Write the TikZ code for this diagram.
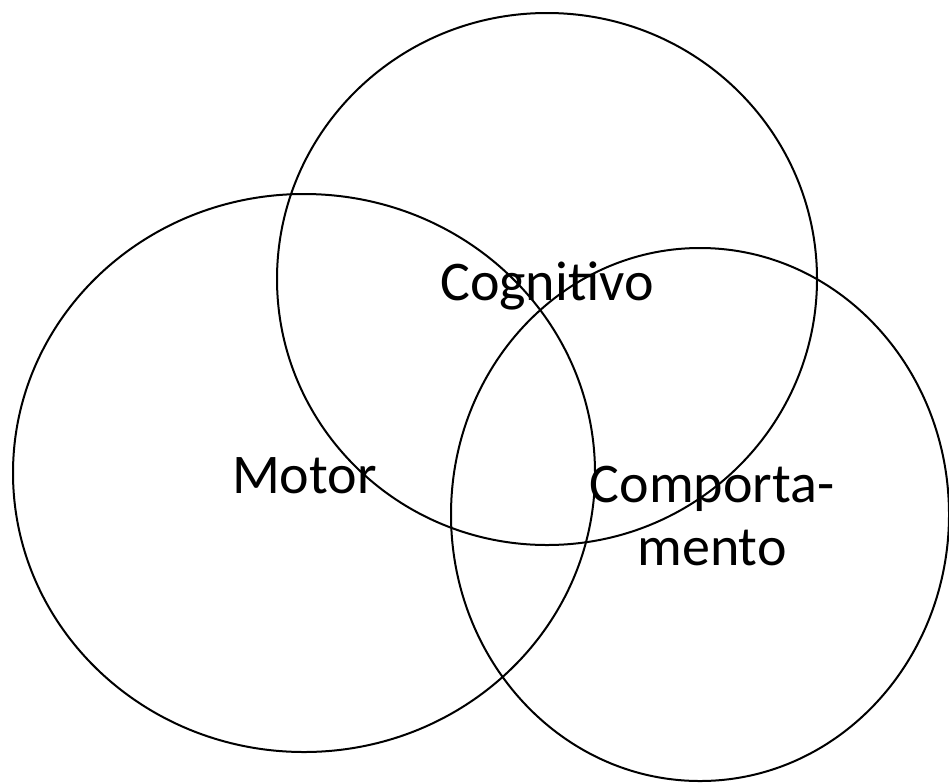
\documentclass[tikz,border=0pt]{standalone}
\usepackage{fontspec}
\setmainfont{Carlito}
\usetikzlibrary{shapes.geometric,positioning}

\begin{document}
\begin{tikzpicture}[x=1pt,y=-1pt,line width=2pt,
		set node/.style={ellipse,draw,inner sep=0pt}, text node/.style={rectangle,inner sep=0pt,font=\fontsize{56}{63}\selectfont}]
		
		\useasboundingbox (0,0) rectangle (949,782);
		
		\node[set node,minimum width=582pt,minimum height=558pt] (motor) at (304,473) {};
		\node[set node,minimum width=540pt,minimum height=532pt] (cog) at (547,279) {};
		\node[set node,minimum width=498pt,minimum height=533pt] (comp) at (700,514.5) {};
		
		\node[text node,anchor=base west] (motortext) at (231,493) {Motor};
		\node[text node,anchor=base] (cogtext) at (547,300) {Cognitivo};
		\node[text node,anchor=base,align=center] (comptext) at (712,565) {Comporta-\\mento};
		
\end{tikzpicture}
\end{document}
